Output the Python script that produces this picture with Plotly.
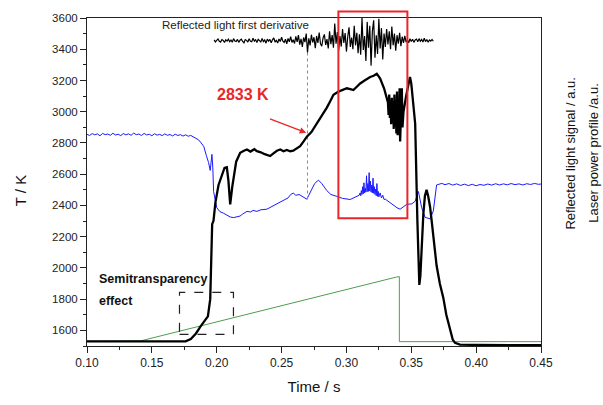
import numpy as np
import plotly.graph_objects as go

# ---------------- data ----------------
# Temperature (black, thick)
temp_t = [0.100, 0.120, 0.150, 0.170, 0.176, 0.180, 0.184, 0.1873, 0.1905, 0.1932,
          0.1950, 0.1960, 0.1965, 0.1975, 0.1990, 0.2014, 0.2040, 0.2060, 0.2078, 0.2090,
          0.2104, 0.2120, 0.2150, 0.2181, 0.2210, 0.2233, 0.2260, 0.2290, 0.2310, 0.2340,
          0.2370, 0.2412, 0.2440, 0.2464, 0.2490, 0.2515, 0.2540, 0.2567, 0.2590, 0.2618,
          0.2643, 0.2670, 0.2695, 0.2730, 0.2772, 0.2810, 0.2849, 0.2875, 0.2900, 0.2939,
          0.2970, 0.3003, 0.3030, 0.3054, 0.3080, 0.3106, 0.3140, 0.3183, 0.3210, 0.3234,
          0.3250, 0.3260, 0.3290, 0.3311,
          0.3320, 0.3325, 0.3330, 0.3335, 0.3340, 0.3345, 0.3350, 0.3355, 0.3360, 0.3365,
          0.3370, 0.3375, 0.3380, 0.3385, 0.3390, 0.3395, 0.3400, 0.3405, 0.3410, 0.3414,
          0.3420, 0.3427, 0.3432, 0.3440,
          0.3460, 0.3480, 0.3490, 0.3500, 0.3515, 0.3530, 0.3547, 0.3555, 0.3562, 0.3570,
          0.3580, 0.3593, 0.3605, 0.3618, 0.3630, 0.3645, 0.3657, 0.3675, 0.3695, 0.3720,
          0.3747, 0.3770, 0.3798, 0.3820, 0.3837, 0.3875, 0.4000, 0.4500]
temp_v = [1530, 1529, 1528, 1527, 1530, 1545, 1580, 1622, 1660, 1690,
          1800, 2100, 2280, 2300, 2420, 2531, 2600, 2640, 2644, 2560,
          2407, 2520, 2680, 2737, 2750, 2758, 2745, 2760, 2747, 2740,
          2728, 2716, 2735, 2750, 2758, 2747, 2755, 2747, 2750, 2768,
          2780, 2810, 2840, 2870, 2923, 2975, 3026, 3067, 3108, 3129,
          3140, 3150, 3145, 3139, 3160, 3181, 3200, 3222, 3230, 3243,
          3225, 3212, 3150, 3088,
          3060, 2980, 3110, 2960, 3070, 2920, 3090, 2940, 3030, 2890,
          3110, 2910, 3060, 2860, 3130, 2850, 3000, 2880, 3150, 2809,
          3050, 3150, 2900, 3000,
          3100, 3200, 3222, 3180, 3060, 2923, 2303, 2050, 1891, 1950,
          2150, 2345, 2460, 2500, 2460, 2390, 2303, 2150, 2015, 1900,
          1808, 1700, 1602, 1540, 1520, 1509, 1507, 1505]

# Reflected light signal (blue, thin)
refl_t = [0.100, 0.102, 0.104, 0.106, 0.108, 0.110, 0.112, 0.114, 0.116, 0.118,
          0.120, 0.122, 0.124, 0.126, 0.128, 0.130, 0.132, 0.134, 0.136, 0.138,
          0.140, 0.142, 0.144, 0.146, 0.148, 0.150, 0.152, 0.154, 0.156, 0.158,
          0.160, 0.162, 0.164, 0.166, 0.168, 0.170, 0.172, 0.174, 0.176, 0.178,
          0.180, 0.182, 0.184, 0.186, 0.188, 0.190, 0.192, 0.1937, 0.1950, 0.1963,
          0.1970, 0.1976, 0.2000, 0.2025, 0.2053, 0.2080, 0.2104, 0.2130, 0.2156, 0.2180,
          0.2200, 0.2233, 0.2260, 0.2280, 0.2310, 0.2340, 0.2387, 0.2420, 0.2450, 0.2490,
          0.2520, 0.2550, 0.2570, 0.2590, 0.2610, 0.2635, 0.2669, 0.2695, 0.2710, 0.2733,
          0.2755, 0.2784, 0.2810, 0.2849, 0.2880, 0.2926, 0.2970, 0.3029, 0.3060,
          0.3100, 0.3105, 0.3110, 0.3115, 0.3120, 0.3125, 0.3130, 0.3135, 0.3140, 0.3145,
          0.3150, 0.3155, 0.3160, 0.3165, 0.3170, 0.3175, 0.3180, 0.3185, 0.3190, 0.3195,
          0.3200, 0.3205, 0.3210, 0.3215, 0.3220, 0.3225, 0.3230, 0.3235, 0.3240, 0.3245,
          0.3250, 0.3260, 0.3270, 0.3280, 0.3290, 0.3300,
          0.3337, 0.3370, 0.3390, 0.3414, 0.3440, 0.3465,
          0.3504, 0.3530, 0.3555, 0.3580, 0.3606, 0.3645, 0.3670, 0.3695, 0.3735, 0.3760,
          0.3790, 0.3820, 0.3850, 0.3880, 0.3910, 0.3940, 0.3970, 0.4000, 0.4030, 0.4060,
          0.4090, 0.4120, 0.4150, 0.4180, 0.4210, 0.4240, 0.4270, 0.4300, 0.4330, 0.4360,
          0.4390, 0.4420, 0.4450, 0.4480, 0.4500]
refl_v = [2855, 2848, 2860, 2852, 2858, 2846, 2861, 2853, 2857, 2849,
          2862, 2851, 2856, 2847, 2860, 2852, 2858, 2849, 2863, 2853,
          2857, 2848, 2861, 2851, 2856, 2846, 2859, 2850, 2855, 2847,
          2858, 2849, 2854, 2845, 2856, 2848, 2853, 2844, 2852, 2843,
          2848, 2838, 2832, 2820, 2800, 2778, 2720, 2675, 2624, 2727,
          2640, 2489, 2386, 2360, 2350, 2338, 2326, 2322, 2326, 2332,
          2345, 2362, 2358, 2368, 2362, 2372, 2376, 2390, 2400, 2417,
          2435, 2448, 2470, 2479, 2465, 2470, 2452, 2440, 2465, 2500,
          2540, 2562, 2540, 2495, 2470, 2458, 2445, 2438, 2450,
          2466, 2480, 2462, 2495, 2470, 2520, 2475, 2545, 2480, 2510,
          2485, 2590, 2488, 2540, 2490, 2610, 2492, 2555, 2485, 2530,
          2480, 2575, 2478, 2520, 2470, 2505, 2462, 2540, 2458, 2490,
          2455, 2480, 2448, 2465, 2438, 2440,
          2417, 2395, 2385, 2376, 2390, 2407,
          2410, 2427, 2489, 2386, 2324, 2314, 2365, 2531, 2541, 2533,
          2540, 2530, 2538, 2528, 2536, 2527, 2535, 2526, 2534, 2529,
          2537, 2530, 2539, 2531, 2538, 2532, 2540, 2533, 2538, 2531,
          2539, 2534, 2541, 2535, 2537]

# Laser power profile (green, thin)
laser_t = [0.100, 0.141, 0.3388, 0.3408, 0.3408, 0.4500]
laser_v = [1530, 1532, 1942, 1944, 1528, 1528]

# Reflected light first derivative (black, top trace), hand-read deviations
deriv_start = 0.198
deriv_step = 0.001
deriv_base = 3455
deriv_dev = [5, -8, 2, 11, -4, -9, 7, 1, -12, 6, -3, 9, -7, 4, -10, 13, -2, -6, 8, -11,
             3, 10, -5, -14, 7, 2, -9, 12, -4, -7, 15, -3, 6, -12, 9, -1, -8, 14, -6, 4,
             -16, 10, -3, 8, -13, 5, 18, -9, 2, -15, 11, -6, 22, -4, -12, 9, -20, 14, -7, 25,
             -11, 6,
             -18, 28, -8, 35, -25, 12, -40, 20, -10, 45, -75, 15, -30, 38, -12, 22, -48, 30,
             -15, 52, -20, -35, 18, 40, -28, 10, -50, 60, -22, 35,
             -45, 110, -20, 55, -65, 30, -38, 75, -15, 48, -70, 25, 85, -40, 20, -55, 95, -30,
             50, -80,
             40, -90, 145, -60, 30, -130, 120, -45, 95, -160, 60, 130, -110, 35, -85, 140, -50,
             80, -120, 45,
             -40, 75, -25, 60, -55, 90, -30, 45, -65, 35, -20, 50, -35, 25, -15, 30,
             -10, 6, -14, 12, -5, 9, -11, 4, 10, -7, 13, -4, 8, -9, 15, -6, 7, -10, 5, -3, 8, -4]

# Annotation values
marker_time = 0.27
marker_T_low, marker_T_high = 2438, 3439
red_box = dict(t0=0.2938, t1=0.3470, T0=2318, T1=3641)
dash_box = dict(t0=0.1713, t1=0.2129, T0=1575, T1=1843)
arrow_tail = (0.2399, 2958)
arrow_head = (0.2690, 2865)

x_range = [0.10, 0.45]
y_range = [1500, 3600]
x_ticks = [0.10, 0.15, 0.20, 0.25, 0.30, 0.35, 0.40, 0.45]
y_ticks = [1600, 1800, 2000, 2200, 2400, 2600, 2800, 3000, 3200, 3400, 3600]

# ---------------- figure ----------------
FONT = "Liberation Sans, Arial, sans-serif"
deriv_t = deriv_start + deriv_step * np.arange(len(deriv_dev))
deriv_v = deriv_base + np.array(deriv_dev)

fig = go.Figure()
fig.add_trace(go.Scatter(x=laser_t, y=laser_v, mode="lines",
                         line=dict(color="#4f9e4f", width=1), hoverinfo="skip"))
fig.add_trace(go.Scatter(x=refl_t, y=refl_v, mode="lines",
                         line=dict(color="#1a1aff", width=1), hoverinfo="skip"))
fig.add_trace(go.Scatter(x=[marker_time, marker_time], y=[marker_T_low, marker_T_high],
                         mode="lines", line=dict(color="#8a8a8a", width=1, dash="dot"),
                         hoverinfo="skip"))
fig.add_trace(go.Scatter(x=temp_t, y=temp_v, mode="lines",
                         line=dict(color="black", width=2.3), hoverinfo="skip"))
fig.add_trace(go.Scatter(x=deriv_t, y=deriv_v, mode="lines",
                         line=dict(color="black", width=1.2), hoverinfo="skip"))


def px(t):
    return (t - x_range[0]) / (x_range[1] - x_range[0])


def py(T):
    return (T - y_range[0]) / (y_range[1] - y_range[0])


fig.add_shape(type="rect", xref="paper", yref="paper",
              x0=px(red_box["t0"]), x1=px(red_box["t1"]),
              y0=py(red_box["T0"]), y1=py(red_box["T1"]),
              line=dict(color="#e8262b", width=2), layer="above")
fig.add_shape(type="rect", xref="x", yref="y",
              x0=dash_box["t0"], x1=dash_box["t1"], y0=dash_box["T0"], y1=dash_box["T1"],
              line=dict(color="#222222", width=1.2, dash="dash"), layer="above")

fig.add_annotation(x=arrow_head[0], y=arrow_head[1], ax=arrow_tail[0], ay=arrow_tail[1],
                   xref="x", yref="y", axref="x", ayref="y", text="", showarrow=True,
                   arrowhead=2, arrowsize=1, arrowwidth=1.3, arrowcolor="#e8262b")
fig.add_annotation(x=0.2204, y=3108, xref="x", yref="y", text="<b>2833 K</b>",
                   showarrow=False, font=dict(family=FONT, size=16, color="#e8262b"))
fig.add_annotation(x=0.1077, y=1926, xref="x", yref="y", text="<b>Semitransparency</b>",
                   showarrow=False, xanchor="left",
                   font=dict(family=FONT, size=12.5, color="#111111"))
fig.add_annotation(x=0.1077, y=1788, xref="x", yref="y", text="<b>effect</b>",
                   showarrow=False, xanchor="left",
                   font=dict(family=FONT, size=12.5, color="#111111"))
fig.add_annotation(x=0.1559, y=3558, xref="x", yref="y",
                   text="Reflected light first derivative", showarrow=False,
                   xanchor="left", font=dict(family=FONT, size=11.5, color="#222222"))

# axis titles
fig.add_annotation(x=-0.1476, y=0.475, xref="paper", yref="paper", text="T / K",
                   textangle=-90, showarrow=False, xanchor="center", yanchor="middle",
                   font=dict(family=FONT, size=15, color="#111111"))
fig.add_annotation(x=1.064, y=0.587, xref="paper", yref="paper",
                   text="Reflected light signal / a.u.", textangle=-90, showarrow=False,
                   xanchor="center", yanchor="middle",
                   font=dict(family=FONT, size=13, color="#111111"))
fig.add_annotation(x=1.115, y=0.587, xref="paper", yref="paper",
                   text="Laser power profile /a.u.", textangle=-90, showarrow=False,
                   xanchor="center", yanchor="middle",
                   font=dict(family=FONT, size=13, color="#111111"))

axis_common = dict(showgrid=False, zeroline=False, showline=True, linecolor="#222222",
                   linewidth=1, mirror=True, ticks="outside", ticklen=6, tickwidth=1,
                   tickcolor="#222222",
                   tickfont=dict(family=FONT, size=12, color="#222222"))

fig.update_layout(
    width=603, height=405,
    margin=dict(l=87, r=62, t=17, b=49),
    paper_bgcolor="white", plot_bgcolor="white",
    showlegend=False,
    font=dict(family=FONT, color="#222222"),
    xaxis=dict(range=x_range, tickvals=x_ticks, tickformat=".2f",
               minor=dict(dtick=0.025, tick0=0.1, ticklen=3, ticks="outside",
                          tickcolor="#222222"),
               title=dict(text="Time / s", standoff=12,
                          font=dict(family=FONT, size=15, color="#111111")),
               **axis_common),
    yaxis=dict(range=y_range, tickvals=y_ticks,
               minor=dict(dtick=100, tick0=1500, ticklen=3, ticks="outside",
                          tickcolor="#222222"),
               **axis_common),
)
fig.update_yaxes(tickfont=dict(family=FONT, size=11.5, color="#222222"))

fig.write_html("out.html", config={"displayModeBar": False},
               post_script="document.body.style.margin='0';document.body.style.overflow='hidden';")
